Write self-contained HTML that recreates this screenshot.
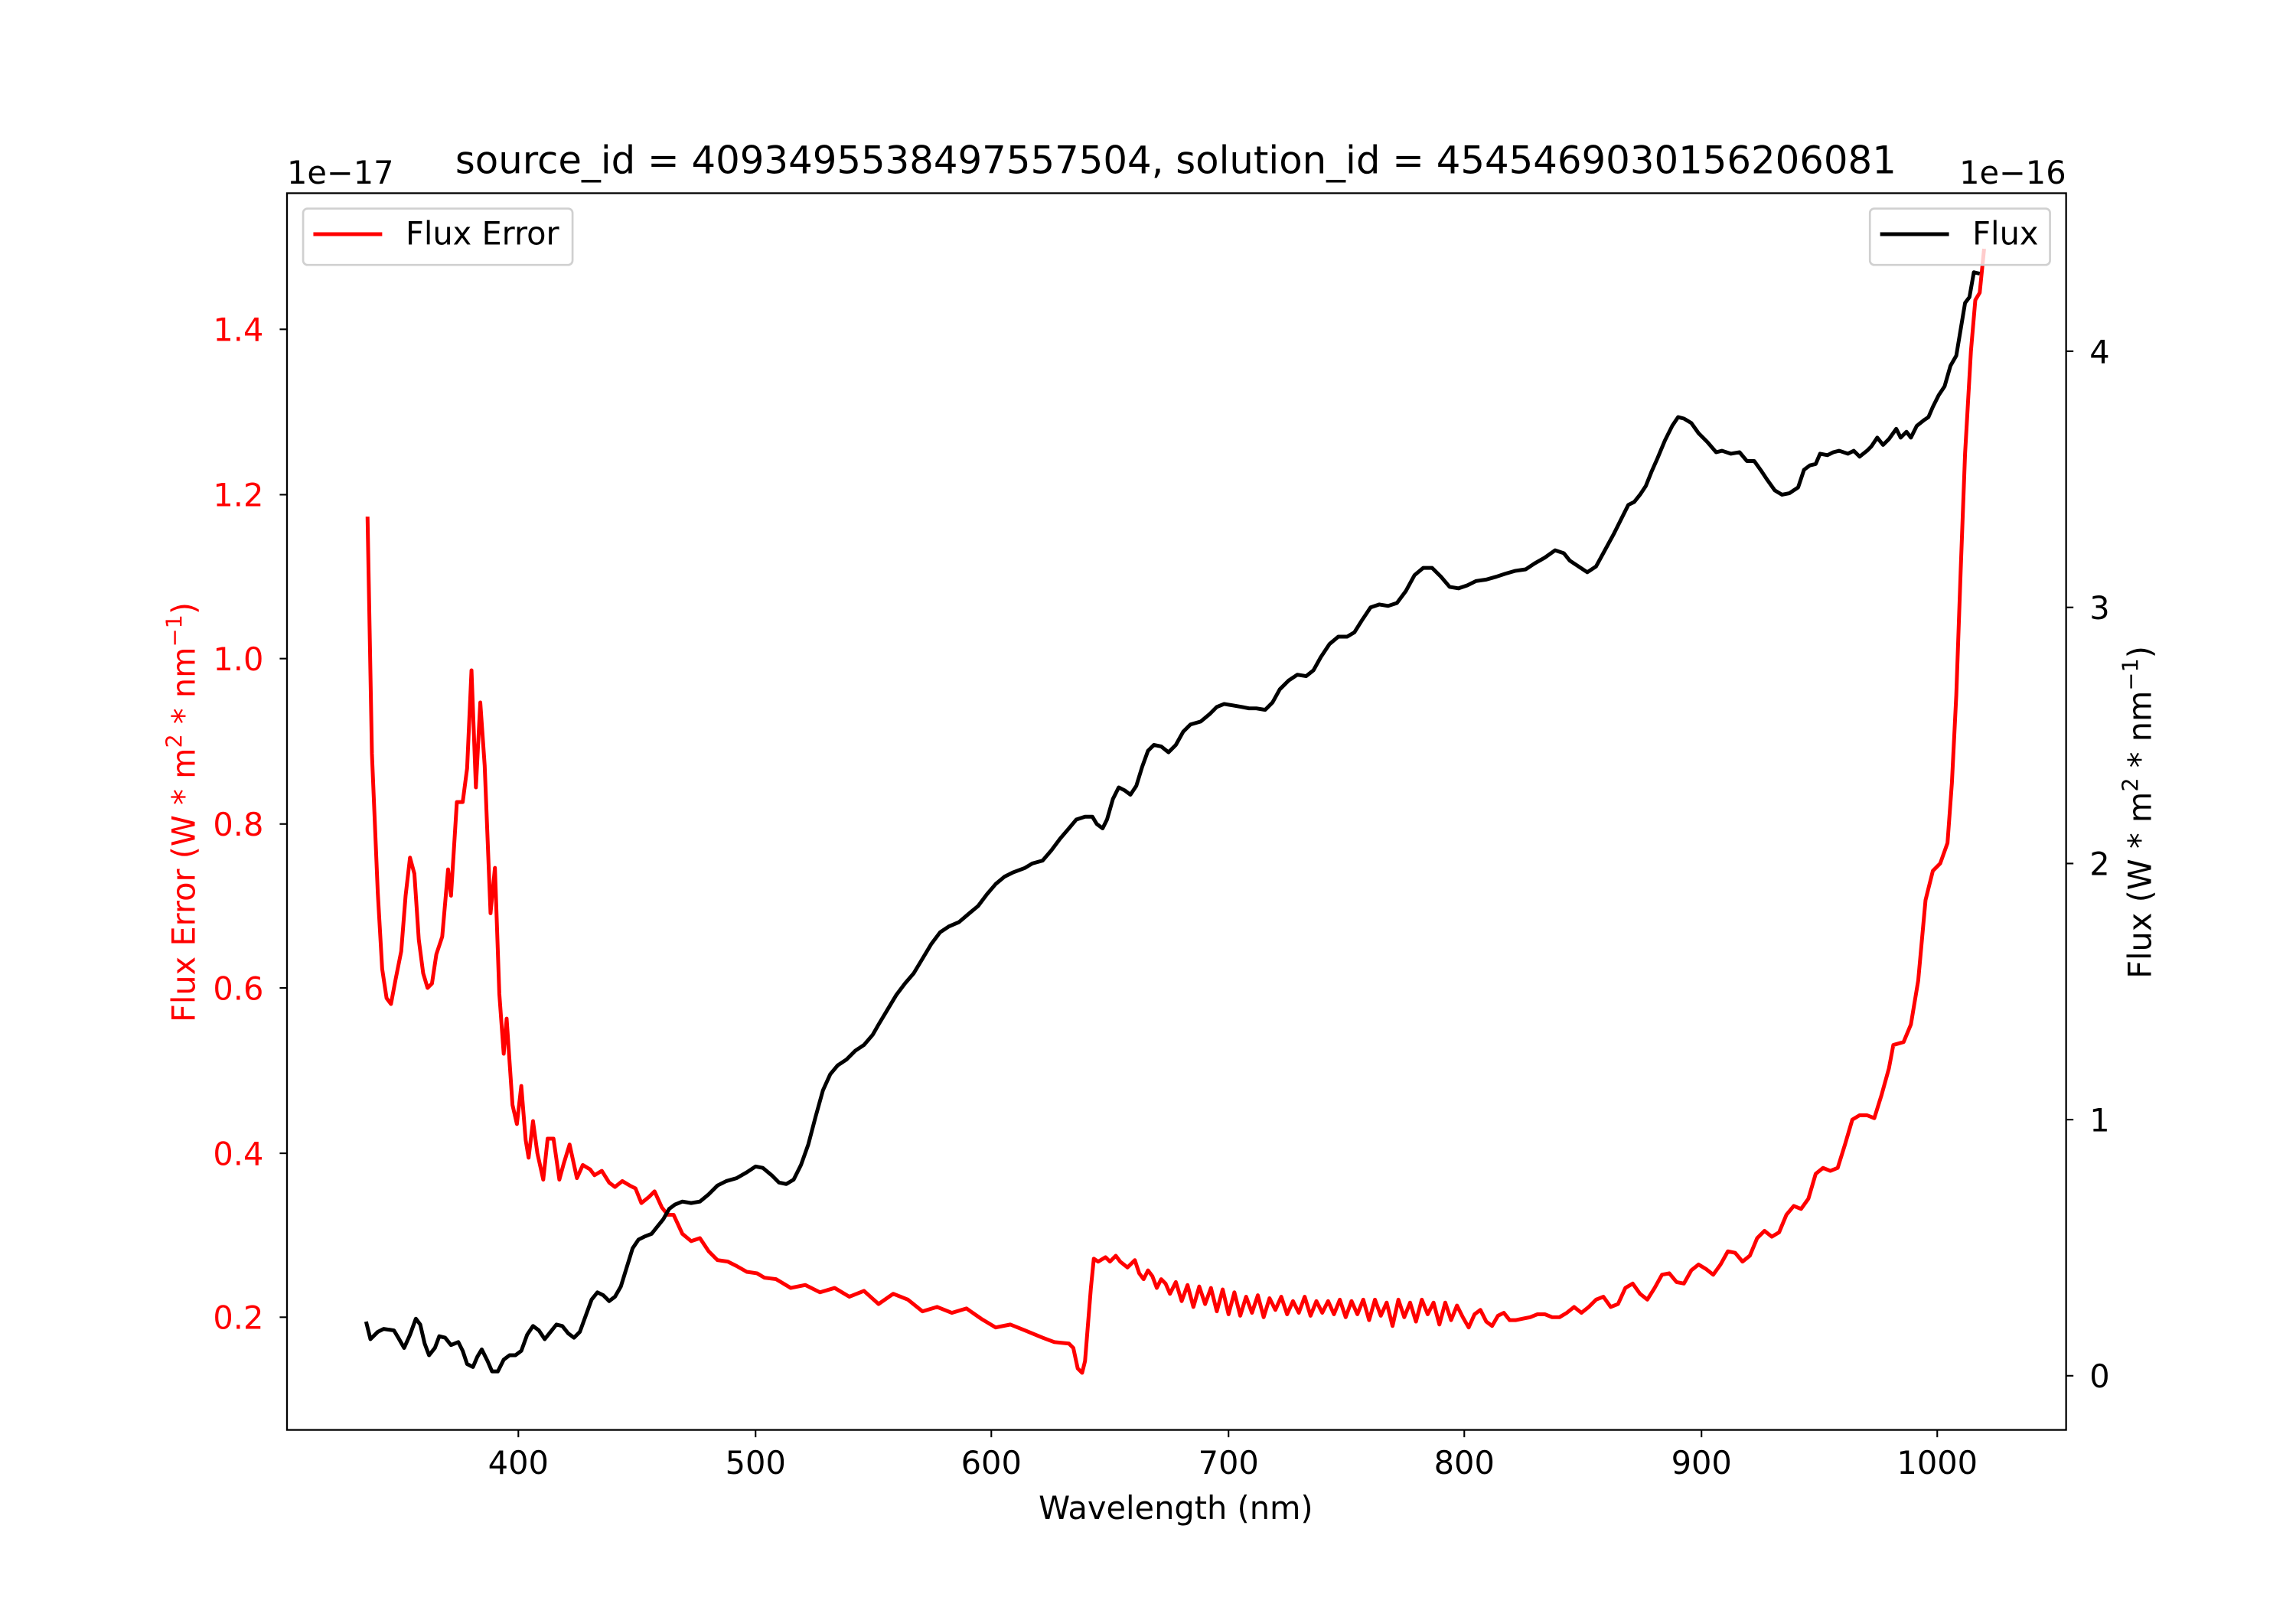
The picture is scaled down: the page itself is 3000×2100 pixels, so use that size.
<!DOCTYPE html>
<html><head><meta charset="utf-8"><style>
html,body{margin:0;padding:0;background:#fff;}
svg{display:block;}
text{font-family:"DejaVu Sans","Liberation Sans",sans-serif;}
</style></head><body>
<svg width="3000" height="2100" viewBox="0 0 1568 1098" preserveAspectRatio="none" xmlns="http://www.w3.org/2000/svg">
<rect width="1568" height="1098" fill="#fff"/>
<polyline fill="none" stroke="#ff0000" stroke-width="2.6" stroke-linejoin="round" points="251,353 254,515 258,610 261,662 264,682 267,686 270,670 274,650 277,612 280,586 283,597 286,642 289,665 292,675 295,672 298,652 302,640 306,594 308,612 312,548 316,548 319,525 322,458 325,538 328,480 331,523 335,624 338,593 341,679 344,720 346,696 350,755 353,768 356,742 359,779 361,791 364,766 367,788 371,806 374,778 378,778 382,806 385,795 389,782 394,805 398,796 403,799 406,803 411,800 416,808 420,811 425,807 430,810 434,812 438,822 443,818 447,814 452,825 456,830 460,830 466,843 472,848 478,846 484,855 490,861 497,862 503,865 510,869 517,870 522,873 530,874 540,880 550,878 560,883 570,880 580,886 590,882 600,891 610,884 620,888 630,896 640,893 650,897 660,894 670,901 680,907 690,905 700,909 712,914 720,917 730,918 733,921 736,935 739,938 741,930 743,905 745,880 747,860 750,862 755,859 758,862 762,858 765,862 770,866 775,861 778,870 781,874 784,868 787,872 790,880 793,874 796,877 799,884 803,876 807,889 811,878 815,893 819,879 823,891 827,880 831,896 835,881 839,898 843,883 847,899 851,886 855,897 859,885 863,900 867,887 871,895 875,886 879,898 883,889 887,897 891,886 895,899 899,889 903,897 907,889 911,898 915,888 919,900 923,889 927,898 931,888 935,902 939,888 943,899 947,890 951,906 955,888 959,900 963,890 967,903 971,888 975,898 979,890 983,905 987,890 991,902 995,892 999,900 1003,907 1007,898 1011,895 1015,903 1019,906 1023,899 1027,897 1031,902 1035,902 1040,901 1045,900 1050,898 1055,898 1060,900 1065,900 1070,897 1075,893 1080,897 1085,893 1090,888 1095,886 1100,893 1105,891 1110,880 1115,877 1120,884 1125,888 1130,880 1135,871 1140,870 1145,876 1150,877 1155,868 1160,864 1165,867 1170,871 1175,864 1180,855 1185,856 1190,862 1195,858 1200,846 1205,841 1210,845 1215,842 1220,830 1225,824 1230,826 1235,819 1240,802 1245,798 1250,800 1255,798 1260,782 1265,765 1270,762 1275,762 1280,764 1285,748 1290,730 1293,714 1300,712 1305,700 1310,670 1315,615 1320,595 1325,590 1330,576 1333,535 1336,475 1339,390 1342,310 1346,240 1349,205 1352,200 1355,170"/>
<polyline fill="none" stroke="#000" stroke-width="2.6" stroke-linejoin="round" points="250,903 253,915 258,910 262,908 269,909 272,914 276,921 280,912 284,901 287,905 290,918 293,926 297,921 300,913 304,914 308,919 313,917 316,923 319,932 323,934 326,927 329,922 333,930 336,937 340,937 344,929 348,926 352,926 356,923 360,912 364,906 368,909 372,915 376,910 380,905 384,906 388,911 392,914 396,910 400,899 404,888 408,883 412,885 416,889 420,886 424,879 428,866 432,853 436,847 440,845 445,843 449,838 453,833 457,826 461,823 466,821 472,822 478,821 484,816 490,810 496,807 503,805 510,801 516,797 521,798 527,803 532,808 537,809 542,806 547,796 552,782 557,763 562,745 567,734 572,728 578,724 584,718 590,714 596,707 600,700 606,690 612,680 618,672 624,665 630,655 636,645 642,637 648,633 655,630 662,624 668,619 674,611 680,604 686,599 692,596 700,593 705,590 712,588 718,581 724,573 730,566 735,560 741,558 746,558 749,563 753,566 756,560 760,546 764,538 768,540 772,543 776,537 780,524 784,513 788,509 793,510 798,514 803,509 808,500 813,495 820,493 826,488 831,483 836,481 842,482 848,483 853,484 858,484 864,485 869,480 874,471 880,465 886,461 892,462 897,458 902,449 908,440 914,435 920,435 925,432 930,424 936,415 942,413 948,414 954,412 960,404 966,393 972,388 978,388 984,394 990,401 996,402 1002,400 1008,397 1015,396 1022,394 1028,392 1035,390 1042,389 1048,385 1055,381 1062,376 1068,378 1072,383 1078,387 1084,391 1090,387 1096,376 1102,365 1108,353 1112,345 1116,343 1120,338 1124,332 1128,322 1132,313 1137,301 1142,291 1146,285 1150,286 1155,289 1160,296 1166,302 1172,309 1176,308 1182,310 1188,309 1193,315 1198,315 1203,322 1207,328 1212,335 1217,338 1222,337 1228,333 1232,321 1236,318 1240,317 1243,310 1248,311 1252,309 1256,308 1262,310 1266,308 1270,312 1275,308 1278,305 1282,299 1286,304 1290,300 1295,293 1298,299 1302,295 1305,299 1309,291 1314,287 1317,285 1320,278 1324,270 1328,264 1332,250 1336,243 1339,225 1342,207 1345,203 1348,186 1352,187"/>
<rect x="196" y="132" width="1215" height="845" fill="none" stroke="#000" stroke-width="1.2"/>
<g stroke="#000" stroke-width="1.1">
<line x1="354" y1="977" x2="354" y2="982"/><line x1="516" y1="977" x2="516" y2="982"/><line x1="677" y1="977" x2="677" y2="982"/><line x1="839" y1="977" x2="839" y2="982"/><line x1="1000" y1="977" x2="1000" y2="982"/><line x1="1162" y1="977" x2="1162" y2="982"/><line x1="1323" y1="977" x2="1323" y2="982"/>
<line x1="191" y1="900" x2="196" y2="900"/><line x1="191" y1="788" x2="196" y2="788"/><line x1="191" y1="675" x2="196" y2="675"/><line x1="191" y1="563" x2="196" y2="563"/><line x1="191" y1="450" x2="196" y2="450"/><line x1="191" y1="338" x2="196" y2="338"/><line x1="191" y1="225" x2="196" y2="225"/>
<line x1="1411" y1="940" x2="1416" y2="940"/><line x1="1411" y1="765" x2="1416" y2="765"/><line x1="1411" y1="590" x2="1416" y2="590"/><line x1="1411" y1="415" x2="1416" y2="415"/><line x1="1411" y1="240" x2="1416" y2="240"/>
</g>
<g font-size="21.7" text-anchor="middle" fill="#000">
<text x="354" y="1007">400</text><text x="516" y="1007">500</text><text x="677" y="1007">600</text><text x="839" y="1007">700</text><text x="1000" y="1007">800</text><text x="1162" y="1007">900</text><text x="1323" y="1007">1000</text>
</g>
<g font-size="21.7" text-anchor="end" fill="#ff0000">
<text x="180" y="908">0.2</text><text x="180" y="796">0.4</text><text x="180" y="683">0.6</text><text x="180" y="571">0.8</text><text x="180" y="458">1.0</text><text x="180" y="346">1.2</text><text x="180" y="233">1.4</text>
</g>
<g font-size="21.7" text-anchor="start" fill="#000">
<text x="1427" y="948">0</text><text x="1427" y="773">1</text><text x="1427" y="598">2</text><text x="1427" y="423">3</text><text x="1427" y="248">4</text>
</g>
<text x="196" y="125.5" font-size="21.7" fill="#000">1e−17</text>
<text x="1411" y="125.5" font-size="21.7" fill="#000" text-anchor="end">1e−16</text>
<text x="803" y="118.5" font-size="26" text-anchor="middle" fill="#000">source_id = 4093495538497557504, solution_id = 4545469030156206081</text>
<text x="803" y="1038" font-size="21.7" text-anchor="middle" fill="#000">Wavelength (nm)</text>
<text transform="translate(133,555) rotate(-90)" font-size="21.7" text-anchor="middle" fill="#ff0000">Flux Error (W * m<tspan font-size="15" dy="-9">2</tspan><tspan dy="9"> * nm</tspan><tspan font-size="15" dy="-9">−1</tspan><tspan dy="9">)</tspan></text>
<text transform="translate(1469,555) rotate(-90)" font-size="21.7" text-anchor="middle" fill="#000">Flux (W * m<tspan font-size="15" dy="-9">2</tspan><tspan dy="9"> * nm</tspan><tspan font-size="15" dy="-9">−1</tspan><tspan dy="9">)</tspan></text>
<rect x="207" y="142.5" width="184" height="38.5" rx="3" fill="#fff" fill-opacity="0.8" stroke="#d0d0d0" stroke-width="1.4"/>
<line x1="214" y1="160" x2="261" y2="160" stroke="#ff0000" stroke-width="2.6"/>
<text x="277" y="167" font-size="21.7" fill="#000">Flux Error</text>
<rect x="1277" y="142.5" width="123" height="38.5" rx="3" fill="#fff" fill-opacity="0.8" stroke="#d0d0d0" stroke-width="1.4"/>
<line x1="1284" y1="160" x2="1331" y2="160" stroke="#000" stroke-width="2.6"/>
<text x="1347" y="167" font-size="21.7" fill="#000">Flux</text>
</svg>
</body></html>
